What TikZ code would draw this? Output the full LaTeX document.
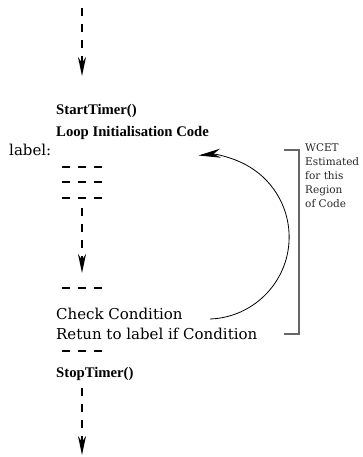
\documentclass[tikz,border=0pt]{standalone}
\usepackage{fontspec}
\setmainfont{DejaVu Serif}
\newfontfamily\timesfont{Liberation Serif}
\usetikzlibrary{arrows.meta}
\tikzset{
  codetext/.style={anchor=base west, inner sep=0pt, font=\fontsize{15}{16}\selectfont},
  boldtext/.style={anchor=base west, inner sep=0pt, font=\timesfont\bfseries\fontsize{14.7}{16}\selectfont},
  flowarrow/.style={line width=1.8pt, dash pattern=on 8pt off 8pt, -{Stealth[length=19pt,width=8pt,inset=6pt]}},
  dashrow/.style={line width=1.8pt, dash pattern=on 8pt off 8pt},
  loopcurve/.style={line width=0.8pt, -{Stealth[length=22pt,width=9pt,inset=7pt]}},
  bracket/.style={line width=1.2pt, draw=black!60},
  wcettext/.style={anchor=base west, inner sep=0pt, align=left, text=black!85, font=\fontsize{10.5}{14}\selectfont}
}
\begin{document}
\begin{tikzpicture}[x=1pt,y=1pt]
\useasboundingbox (0,0) rectangle (362,457);
% top arrow
\coordinate (a1s) at (82,449);
\coordinate (a1e) at (82,381);
\draw[flowarrow] (a1s) -- (a1e);
\node[boldtext] (start) at (56,342) {StartTimer()};
\node[boldtext] (init) at (56,320) {Loop Initialisation Code};
\node[codetext] (label) at (9,301) {label:};
% dash rows
\coordinate (d1a) at (62,290); \coordinate (d1b) at (103,290);
\coordinate (d2a) at (62,275); \coordinate (d2b) at (103,275);
\coordinate (d3a) at (62,259); \coordinate (d3b) at (103,259);
\draw[dashrow] (d1a) -- (d1b);
\draw[dashrow] (d2a) -- (d2b);
\draw[dashrow] (d3a) -- (d3b);
% middle arrow
\coordinate (a2s) at (82,249);
\coordinate (a2e) at (82,184);
\draw[flowarrow] (a2s) -- (a2e);
\coordinate (d4a) at (62,169); \coordinate (d4b) at (103,169);
\draw[dashrow] (d4a) -- (d4b);
\node[codetext] (check) at (56,137) {Check Condition};
\node[codetext] (ret) at (56,117) {Retun to label if Condition};
\coordinate (d5a) at (62,106); \coordinate (d5b) at (103,106);
\draw[dashrow] (d5a) -- (d5b);
\node[boldtext] (stop) at (56,79) {StopTimer()};
% bottom arrow
\coordinate (a3s) at (82,69);
\coordinate (a3e) at (82,2);
\draw[flowarrow] (a3s) -- (a3e);
% loop curve
\coordinate (cs) at (210,138);
\draw[loopcurve] (cs) arc[start angle=-88, end angle=96, radius=82];
% bracket
\coordinate (b1) at (284,307);
\coordinate (b2) at (299,307);
\coordinate (b3) at (299,123);
\coordinate (b4) at (284,123);
\draw[bracket] (b1) -- (b2) -- (b3) -- (b4);
\node[wcettext] (wcet) at (305,249) {WCET\\Estimated\\for this\\Region\\of Code};
\end{tikzpicture}
\end{document}
